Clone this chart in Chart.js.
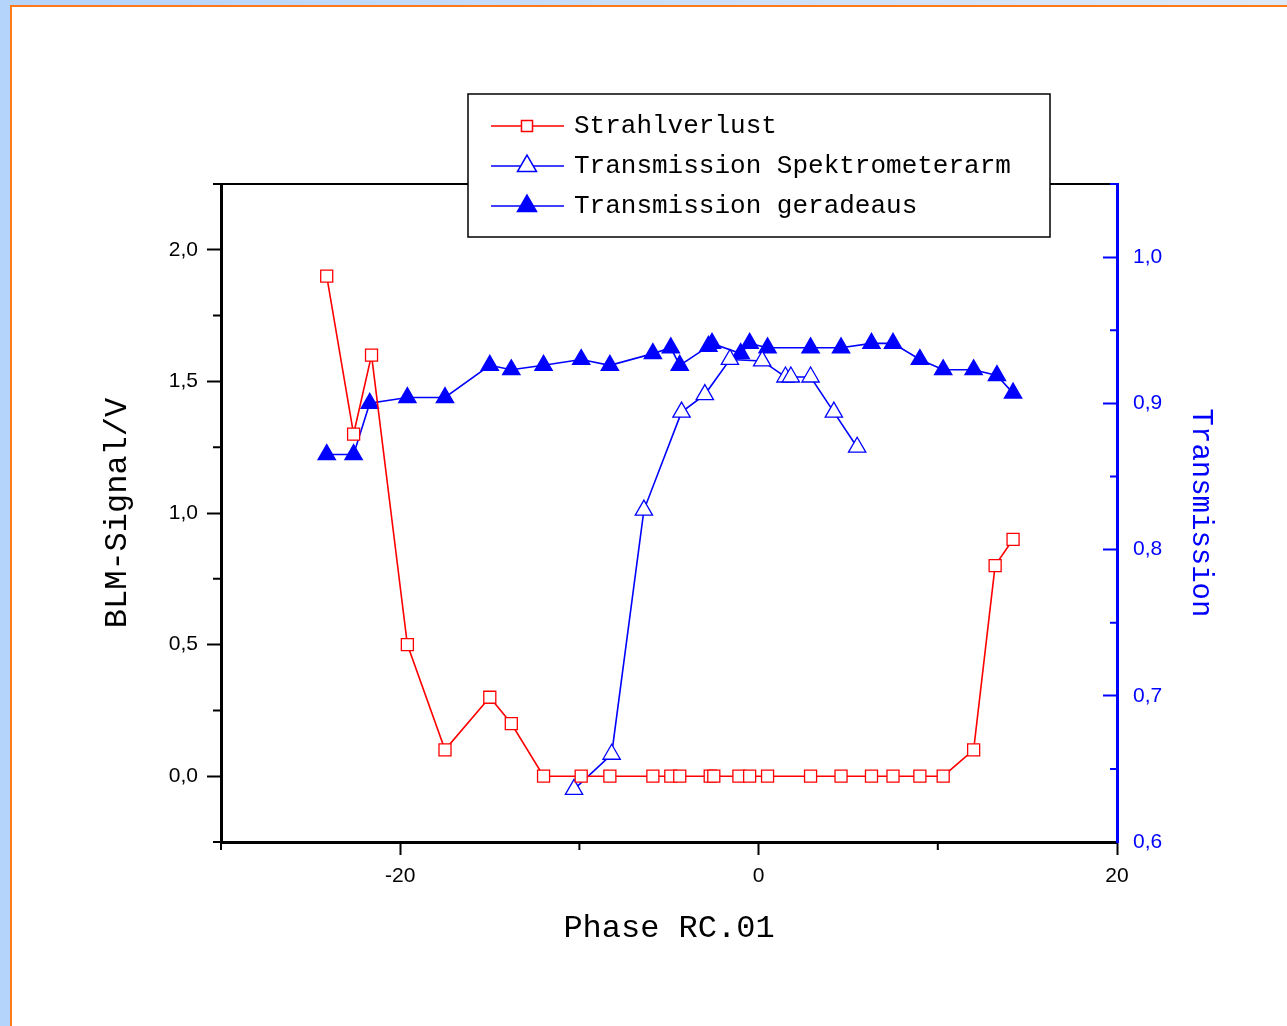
<!DOCTYPE html>
<html>
<head>
<meta charset="utf-8">
<script src="https://cdn.jsdelivr.net/npm/chart.js"></script>
<style>
html,body{margin:0;padding:0;width:1287px;height:1026px;overflow:hidden;}
body{position:relative;background:linear-gradient(to right,#b4d4fb,#dfeaf7);}
#frame{position:absolute;left:10px;top:5px;right:0;bottom:0;background:#fff;border-left:2px solid #ff7a1a;border-top:2px solid #ff7a1a;}
canvas{position:absolute;left:0;top:0;}
</style>
</head>
<body>
<div id="frame"></div>
<canvas id="c" width="1287" height="1026"></canvas>
<script>
// ---- data ----
const seriesNames = ['Strahlverlust', 'Transmission Spektrometerarm', 'Transmission geradeaus'];

const phaseStrahl = [-24.1, -22.6, -21.6, -19.6, -17.5, -15.0, -13.8, -12.0, -9.9, -8.3, -5.9, -4.9, -4.4, -2.7, -2.5, -1.1, -0.5, 0.5, 2.9, 4.6, 6.3, 7.5, 9.0, 10.3, 12.0, 13.2, 14.2];
const strahlverlust = [1.90, 1.30, 1.60, 0.50, 0.10, 0.30, 0.20, 0, 0, 0, 0, 0, 0, 0, 0, 0, 0, 0, 0, 0, 0, 0, 0, 0, 0.10, 0.80, 0.90];

const phaseSpektro = [-10.3, -8.2, -6.4, -4.3, -3.0, -1.6, 0.2, 1.5, 1.8, 2.9, 4.2, 5.5];
const transSpektro = [0.636, 0.660, 0.827, 0.894, 0.906, 0.930, 0.929, 0.918, 0.918, 0.918, 0.894, 0.870];

const phaseGerade = [-24.1, -22.6, -21.7, -19.6, -17.5, -15.0, -13.8, -12.0, -9.9, -8.3, -5.9, -4.9, -4.4, -2.8, -2.6, -1.0, -0.5, 0.5, 2.9, 4.6, 6.3, 7.5, 9.0, 10.3, 12.0, 13.3, 14.2];
const transGerade = [0.865, 0.865, 0.900, 0.904, 0.904, 0.926, 0.923, 0.926, 0.930, 0.926, 0.934, 0.938, 0.926, 0.939, 0.941, 0.934, 0.941, 0.938, 0.938, 0.938, 0.941, 0.941, 0.930, 0.923, 0.923, 0.919, 0.907];

// ---- ticks ----
const xTicks = [-20, 0, 20];
const xMinorTicks = [-30, -10, 10];
const yTicks = [0, 0.5, 1.0, 1.5, 2.0];
const yMinorTicks = [-0.25, 0.25, 0.75, 1.25, 1.75, 2.25];
const y1Ticks = [0.6, 0.7, 0.8, 0.9, 1.0];
const y1MinorTicks = [0.65, 0.75, 0.85, 0.95, 1.05];

const RED = '#ff0000', BLUE = '#0000ff';
const commaFmt = v => Number(v).toFixed(1).replace('.', ',');
const pts = (xs, ys) => xs.map((x, i) => ({x: x, y: ys[i]}));

const minorTicksPlugin = {
  id: 'minorTicks',
  afterDraw(chart) {
    const ctx = chart.ctx;
    const specs = [
      {id: 'x', values: xMinorTicks, len: 8, color: '#000'},
      {id: 'y', values: yMinorTicks, len: 8, color: '#000'},
      {id: 'y1', values: y1MinorTicks, len: -7, color: BLUE}
    ];
    specs.forEach(s => {
      const sc = chart.scales[s.id];
      ctx.save();
      ctx.strokeStyle = s.color;
      ctx.lineWidth = 2;
      ctx.beginPath();
      s.values.forEach(v => {
        const p = sc.getPixelForValue(v);
        if (sc.isHorizontal()) {
          ctx.moveTo(p, sc.top); ctx.lineTo(p, sc.top + s.len);
        } else if (sc.position === 'left') {
          ctx.moveTo(sc.right, p); ctx.lineTo(sc.right - s.len, p);
        } else {
          ctx.moveTo(sc.left, p); ctx.lineTo(sc.left + s.len, p);
        }
      });
      ctx.stroke();
      ctx.restore();
    });
  }
};

const legendPlugin = {
  id: 'boxLegend',
  afterDraw(chart) {
    const ctx = chart.ctx, a = chart.chartArea;
    const L = a.left + 247, T = a.top - 90, W = 582, H = 143;
    ctx.save();
    ctx.fillStyle = '#fff';
    ctx.fillRect(L, T, W, H);
    ctx.strokeStyle = '#000';
    ctx.lineWidth = 1.5;
    ctx.strokeRect(L, T, W, H);
    chart.data.datasets.forEach((ds, i) => {
      const cy = T + 32 + i * 40;
      ctx.strokeStyle = ds.borderColor;
      ctx.lineWidth = 1.5;
      ctx.beginPath();
      ctx.moveTo(L + 23, cy);
      ctx.lineTo(L + 96, cy);
      ctx.stroke();
      ctx.fillStyle = ds.pointBackgroundColor;
      ctx.strokeStyle = ds.pointBorderColor;
      ctx.lineWidth = 1.5;
      Chart.helpers.drawPoint(ctx, {pointStyle: ds.pointStyle, radius: ds.pointStyle === 'rect' ? 7.8 : 11, borderWidth: 1.5, rotation: 0}, L + 59, cy);
      ctx.fillStyle = '#000';
      ctx.font = '26px "Liberation Mono"';
      ctx.textBaseline = 'middle';
      ctx.textAlign = 'left';
      ctx.fillText(ds.label, L + 106, cy);
    });
    ctx.restore();
  }
};

new Chart(document.getElementById('c'), {
  type: 'line',
  data: {
    datasets: [
      {
        label: seriesNames[0], data: pts(phaseStrahl, strahlverlust), yAxisID: 'y',
        borderColor: RED, borderWidth: 1.6, pointStyle: 'rect', pointRadius: 8.5,
        pointBorderWidth: 1.3, pointBackgroundColor: '#fff', pointBorderColor: RED, tension: 0
      },
      {
        label: seriesNames[1], data: pts(phaseSpektro, transSpektro), yAxisID: 'y1',
        borderColor: BLUE, borderWidth: 1.6, pointStyle: 'triangle', pointRadius: 10,
        pointBorderWidth: 1.3, pointBackgroundColor: '#fff', pointBorderColor: BLUE, tension: 0
      },
      {
        label: seriesNames[2], data: pts(phaseGerade, transGerade), yAxisID: 'y1',
        borderColor: BLUE, borderWidth: 1.6, pointStyle: 'triangle', pointRadius: 10,
        pointBorderWidth: 1.3, pointBackgroundColor: BLUE, pointBorderColor: BLUE, tension: 0
      }
    ]
  },
  options: {
    responsive: false,
    animation: false,
    devicePixelRatio: 1,
    layout: {padding: {top: 184, left: 0, right: 0, bottom: 0}},
    plugins: {legend: {display: false}, tooltip: {enabled: false}},
    scales: {
      x: {
        type: 'linear', position: 'bottom', min: -30, max: 20,
        afterBuildTicks: s => { s.ticks = xTicks.map(v => ({value: v})); },
        afterFit: s => { s.height = 184; },
        grid: {drawOnChartArea: false, tickLength: 13, tickWidth: 2, tickColor: '#000'},
        border: {color: '#000', width: 3},
        ticks: {autoSkip: false, maxRotation: 0, color: '#000', padding: 9,
                font: {family: 'Liberation Sans', size: 21}, callback: v => String(v)},
        title: {display: true, text: 'Phase RC.01', color: '#000',
                font: {family: 'Liberation Mono', size: 32}, padding: {top: 0, bottom: 78}}
      },
      xTop: {
        type: 'linear', position: 'top', min: -30, max: 20,
        afterFit: s => { s.height = 0; },
        ticks: {display: false},
        grid: {drawOnChartArea: false, drawTicks: false},
        border: {color: '#000', width: 2}
      },
      y: {
        type: 'linear', position: 'left', min: -0.25, max: 2.25,
        afterBuildTicks: s => { s.ticks = yTicks.map(v => ({value: v})); },
        afterFit: s => { s.width = 221; },
        grid: {drawOnChartArea: false, tickLength: 14, tickWidth: 2, tickColor: '#000'},
        border: {color: '#000', width: 3},
        ticks: {autoSkip: false, color: '#000', padding: 9,
                font: {family: 'Liberation Sans', size: 21}, callback: v => commaFmt(v)},
        title: {display: true, text: 'BLM-Signal/V', color: '#000',
                font: {family: 'Liberation Mono', size: 32}, padding: {top: 98, bottom: 0}}
      },
      y1: {
        type: 'linear', position: 'right', min: 0.6, max: 1.05,
        afterBuildTicks: s => { s.ticks = y1Ticks.map(v => ({value: v})); },
        afterFit: s => { s.width = 170; },
        grid: {drawOnChartArea: false, tickLength: -14, tickWidth: 2, tickColor: BLUE},
        border: {color: BLUE, width: 3},
        ticks: {autoSkip: false, color: BLUE, padding: 30,
                font: {family: 'Liberation Sans', size: 21}, callback: v => commaFmt(v)},
        title: {display: true, text: 'Transmission', color: BLUE,
                font: {family: 'Liberation Mono', size: 29}, padding: {top: 69, bottom: 0}}
      }
    }
  },
  plugins: [minorTicksPlugin, legendPlugin]
});
</script>
</body>
</html>
